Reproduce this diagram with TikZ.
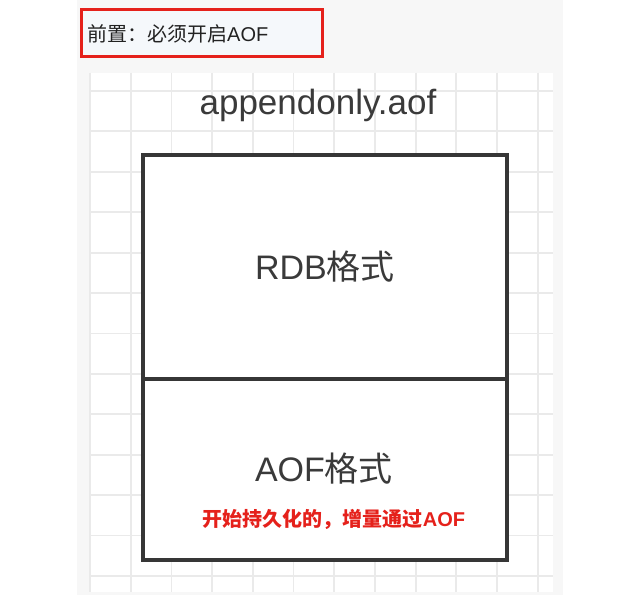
\documentclass[tikz,border=0pt]{standalone}
\usepackage{fontspec}
\setmainfont{Liberation Sans}
\newfontfamily\cjk{Noto Sans CJK SC}
\definecolor{panel}{HTML}{F7F7F7}
\definecolor{gridc}{HTML}{EAEAEA}
\definecolor{boxc}{HTML}{363636}
\definecolor{redc}{HTML}{E5211B}
\definecolor{redfill}{HTML}{F5F8FB}
\definecolor{textc}{HTML}{3A3A3A}
\definecolor{pretext}{HTML}{222222}
\tikzset{
  gridline/.style={gridc,line width=1.8pt},
  part/.style={draw=boxc,line width=3.6pt,fill=white,line join=miter},
  lbl/.style={inner sep=0pt,text=textc},
}
\begin{document}
\begin{tikzpicture}[x=1pt,y=-1pt]
\useasboundingbox (0,0) rectangle (629,604);
\fill[white] (0,0) rectangle (629,604);
\fill[panel] (77,0) rectangle (563,595);
\fill[white] (90,73) rectangle (553,592);
\foreach \i in {0,...,11} \draw[gridline] ({90+40.7*\i},73) -- ({90+40.7*\i},592);
\foreach \j in {0,...,12} \draw[gridline] (90,{91+40.4*\j}) -- (553,{91+40.4*\j});
% precondition box
\draw[redc,line width=3pt,fill=redfill] (81,10) rectangle (322,57);
\node[inner sep=0pt,anchor=west,text=pretext] (pre) at (87,34)
  {\fontsize{20}{24}\selectfont{\cjk 前置：必须开启}AOF};
% file title
\node[lbl] (title) at (318,105) {\fontsize{35}{40}\selectfont appendonly.aof};
% parts
\draw[part] (143,155) rectangle (507,379);
\draw[part] (143,379) rectangle (507,560);
\node[lbl] (rdb) at (325,267) {\fontsize{34}{40}\selectfont RDB{\cjk 格式}};
\node[lbl] (aof) at (324,469) {\fontsize{34}{40}\selectfont AOF{\cjk 格式}};
\node[inner sep=0pt,text=redc] (note) at (334,519)
  {\fontsize{20}{24}\selectfont\bfseries{\cjk\bfseries 开始持久化的，增量通过}AOF};
\end{tikzpicture}
\end{document}
